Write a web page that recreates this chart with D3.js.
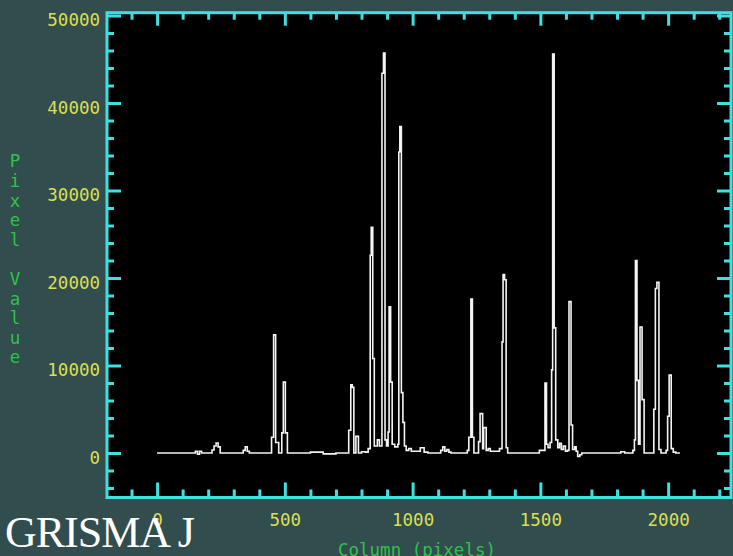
<!DOCTYPE html>
<html>
<head>
<meta charset="utf-8">
<script src="https://cdn.jsdelivr.net/npm/d3@7"></script>
<style>
  html, body { margin: 0; padding: 0; background: #314d4d; }
  svg { display: block; }
</style>
</head>
<body>
<svg id="chart" width="733" height="556"></svg>
<script>
// Extracted spectrum: detector column and pixel value at each change of level
const columns = [
  0, 150, 158, 166, 174, 215, 223, 231, 239, 247,
  337, 345, 353, 361, 448, 456, 464, 476, 488, 494, 502, 510,
  600, 650, 700, 750, 758, 764, 770, 778, 788, 800, 815,
  826, 834, 838, 844, 850, 862, 870, 880, 886, 892, 898,
  904, 908, 914, 920, 930, 942, 946, 950, 956, 962, 968, 975,
  985, 995, 1030, 1045, 1060, 1110, 1118, 1126, 1134, 1142, 1150,
  1214, 1220, 1228, 1234, 1240, 1258, 1264, 1274, 1278, 1288, 1296, 1304,
  1340, 1350, 1354, 1360, 1366, 1372,
  1496, 1518, 1524, 1530, 1538, 1544, 1548, 1554, 1560, 1568, 1575, 1582, 1590, 1598,
  1606, 1612, 1620, 1626, 1634, 1640, 1646, 1654, 1662,
  1815, 1830, 1862, 1868, 1872, 1878, 1884, 1890, 1898, 1906,
  1944, 1950, 1956, 1964, 1972, 1992, 1998, 2004, 2012, 2020, 2030, 2046
];
const pixelValues = [
  0, 200, -150, 200, 0, 350, 800, 1150, 700, 0,
  300, 700, 200, 0, 1800, 13500, 1200, 0, 2300, 8100, 2300, 0,
  100, -100, 0, 2600, 7800, 7500, 0, 1900, 0, 150, 100,
  500, 22600, 25800, 10800, 800, 1500, 800, 43400, 45700, 1500, 800,
  2400, 16700, 8100, 1000, 700, 1000, 34400, 37300, 6900, 3500, 800, 300,
  500, 200, 600, 100, 0, 300, 700, 200, 400, 100, 0,
  300, 1800, 17600, 1800, 0, 1300, 4500, 500, 2900, 300, 500, 200,
  500, 12700, 20400, 19800, 600, 0,
  300, 8000, 1000, 600, 1200, 9500, 45600, 14300, 1500, 600, 1100, 400, 800, 200,
  300, 17300, 3200, 400, 700, 200, -400, -200, 0,
  150, 0, 300, 1500, 22000, 8300, 1000, 14400, 6100, 0,
  5000, 18800, 19500, 400, 0, 300, 4200, 8900, 500, 100, 0, 0
];

const xMajorTicks = [0, 500, 1000, 1500, 2000];
const yMajorTicks = [0, 10000, 20000, 30000, 40000, 50000];
const xTitle = "Column (pixels)";
const yTitle = "Pixel Value";
const caption = "GRISMA J";

const cyan = "#3fe0e0";
const yellow = "#dcdf55";
const green = "#2fc24a";
const mono = "'DejaVu Sans Mono', 'Liberation Mono', monospace";

const svg = d3.select("#chart");
const frame = { left: 107, top: 12.7, right: 731, bottom: 497.5 };

const x = d3.scaleLinear().domain([-196, 2246]).range([frame.left, frame.right]);
const y = d3.scaleLinear().domain([-5086, 50320]).range([frame.bottom, frame.top]);

const xMinorTicks = d3.range(-100, 2201, 100).filter(v => !xMajorTicks.includes(v));
const yMinorTicks = d3.range(-4000, 50001, 2000).filter(v => !yMajorTicks.includes(v));

// black plotting area
svg.append("rect")
  .attr("x", frame.left).attr("y", frame.top)
  .attr("width", frame.right - frame.left).attr("height", frame.bottom - frame.top)
  .attr("fill", "#000");

// spectrum trace
const trace = d3.zip(columns, pixelValues);
svg.append("path")
  .datum(trace)
  .attr("fill", "none")
  .attr("stroke", "#f4f4f4")
  .attr("stroke-width", 1.6)
  .attr("stroke-linejoin", "miter")
  .attr("d", d3.line().x(d => x(d[0])).y(d => y(d[1])).curve(d3.curveStepAfter));

// inward ticks on all four sides
function ticks(axisFn, scale, values, size, transform, withLabels, padding) {
  const g = svg.append("g")
    .attr("transform", transform)
    .call(axisFn(scale)
      .tickValues(values)
      .tickSize(-size)
      .tickPadding(padding || 3)
      .tickFormat(withLabels ? d3.format("d") : ""));
  g.select(".domain").remove();
  g.selectAll(".tick line").attr("stroke", cyan).attr("stroke-width", 3);
  g.attr("font-family", mono).attr("font-size", 17.5);
  g.selectAll(".tick text").attr("fill", yellow);
  return g;
}

ticks(d3.axisBottom, x, xMinorTicks, 8, `translate(0,${frame.bottom})`);
ticks(d3.axisBottom, x, xMajorTicks, 15, `translate(0,${frame.bottom})`, true, 16);
ticks(d3.axisTop, x, xMinorTicks, 7, `translate(0,${frame.top})`);
ticks(d3.axisTop, x, xMajorTicks, 13, `translate(0,${frame.top})`);

ticks(d3.axisLeft, y, yMinorTicks, 7, `translate(${frame.left},0)`);
const yl = ticks(d3.axisLeft, y, yMajorTicks, 14, `translate(${frame.left},0)`, true, 7);
yl.selectAll(".tick text").attr("dy", "0.58em");
ticks(d3.axisRight, y, yMinorTicks, 7, `translate(${frame.right},0)`);
ticks(d3.axisRight, y, yMajorTicks, 14, `translate(${frame.right},0)`);

// frame
svg.append("rect")
  .attr("x", frame.left).attr("y", frame.top)
  .attr("width", frame.right - frame.left).attr("height", frame.bottom - frame.top)
  .attr("fill", "none").attr("stroke", cyan).attr("stroke-width", 3);

// x-axis title
svg.append("text")
  .attr("x", 417).attr("y", 556)
  .attr("text-anchor", "middle")
  .attr("font-family", mono).attr("font-size", 17.5)
  .attr("fill", green)
  .text(xTitle);

// y-axis title, one letter per line
svg.append("g")
  .selectAll("text")
  .data(Array.from(yTitle))
  .join("text")
  .attr("x", 15)
  .attr("y", (d, i) => 161 + i * 19.6)
  .attr("dy", "0.36em")
  .attr("text-anchor", "middle")
  .attr("font-family", mono).attr("font-size", 17.5)
  .attr("fill", green)
  .text(d => d);

// caption
svg.append("text")
  .attr("x", 5).attr("y", 547)
  .attr("font-family", "'Liberation Serif', 'Times New Roman', serif")
  .attr("font-size", 44)
  .attr("letter-spacing", -1)
  .attr("fill", "#ffffff")
  .text(caption);
</script>
</body>
</html>
